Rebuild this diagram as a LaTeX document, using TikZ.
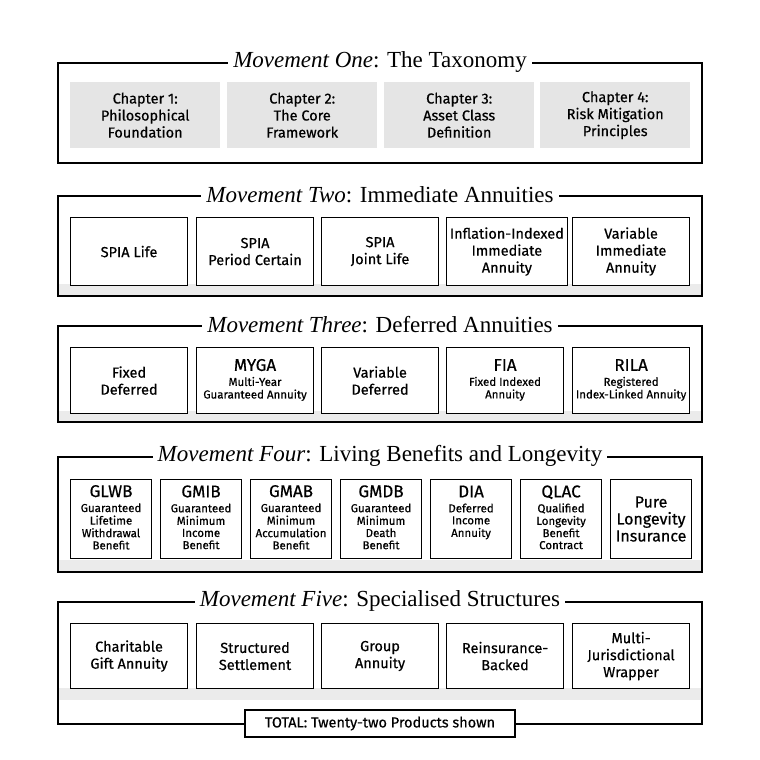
\documentclass[tikz,border=0pt]{standalone}
\usepackage{fontspec}
\setmainfont{Liberation Serif}
\newfontfamily\boxfont[FakeBold=0.5]{Fira Sans}
\newcommand\smtxt[1]{{\fontsize{11.5}{12}\selectfont\begin{tabular}[t]{@{}c@{}}#1\end{tabular}}}
\newcommand\hd[1]{{\fontsize{17}{17}\selectfont #1}}
\begin{document}
\begin{tikzpicture}[x=1pt,y=-1pt,
 frame/.style={draw,line width=1.2pt},
 ttl/.style={fill=white,inner xsep=5pt,font=\fontsize{23}{26}\selectfont},
 chap/.style={fill=black!10,minimum height=66pt,align=center,font=\boxfont\fontsize{14.5}{17}\selectfont,anchor=north west},
 prod/.style={draw,line width=1.1pt,fill=white,align=center,font=\boxfont\fontsize{14.5}{17}\selectfont,anchor=north west}]
\useasboundingbox (0,0) rectangle (760,760);
% Movement 1
\draw[frame] (58,63) rectangle (702,163);
\node[ttl] (t1) at (380,62) {\textit{Movement One}: The Taxonomy};
\foreach \x/\t [count=\i] in {70/{Chapter 1:\\Philosophical\\Foundation},227/{Chapter 2:\\The Core\\Framework},384/{Chapter 3:\\Asset Class\\Definition},540/{Chapter 4:\\Risk Mitigation\\Principles}}
 \node[chap,minimum width=150pt] (c\i) at (\x,82) {\t};
% Movement 2
\fill[black!8] (59,284) rectangle (701,295);
\draw[frame] (58,196) rectangle (702,296);
\node[ttl] (t2) at (380,195) {\textit{Movement Two}: Immediate Annuities};
\foreach \x/\t [count=\i] in {70/{SPIA Life},196/{SPIA\\Period Certain},321/{SPIA\\Joint Life},446/{Inflation-Indexed\\Immediate\\Annuity},572/{Variable\\Immediate\\Annuity}}
 \node[prod,minimum width=117pt,minimum height=68pt] (b\i) at (\x,217) {\t};
% Movement 3
\fill[black!8] (59,411) rectangle (701,421);
\draw[frame] (58,326) rectangle (702,422);
\node[ttl] (t3) at (380,325) {\textit{Movement Three}: Deferred Annuities};
\foreach \x/\t [count=\i] in {70/{Fixed\\Deferred},196/{\hd{MYGA}\\[-2pt]\smtxt{Multi-Year\\Guaranteed Annuity}},321/{Variable\\Deferred},446/{\hd{FIA}\\[-2pt]\smtxt{Fixed Indexed\\Annuity}},572/{\hd{RILA}\\[-2pt]\smtxt{Registered\\Index-Linked Annuity}}}
 \node[prod,minimum width=117pt,minimum height=66pt] (d\i) at (\x,347) {\t};
% Movement 4
\fill[black!8] (59,560) rectangle (701,571);
\draw[frame] (58,457) rectangle (702,572);
\node[ttl] (t4) at (380,456) {\textit{Movement Four}: Living Benefits and Longevity};
\foreach \x/\t [count=\i] in {70/{\hd{GLWB}\\[-2pt]\smtxt{Guaranteed\\Lifetime\\Withdrawal\\Benefit}},160/{\hd{GMIB}\\[-2pt]\smtxt{Guaranteed\\Minimum\\Income\\Benefit}},250/{\hd{GMAB}\\[-2pt]\smtxt{Guaranteed\\Minimum\\Accumulation\\Benefit}},340/{\hd{GMDB}\\[-2pt]\smtxt{Guaranteed\\Minimum\\Death\\Benefit}},430/{\hd{DIA}\\[-2pt]\smtxt{Deferred\\Income\\Annuity\\\mbox{}}},520/{\hd{QLAC}\\[-2pt]\smtxt{Qualified\\Longevity\\Benefit\\Contract}}}
 \node[prod,minimum width=81pt,minimum height=79pt,inner xsep=1pt,inner ysep=3pt] (l\i) at (\x,479) {\t};
\node[prod,minimum width=81pt,minimum height=79pt,inner xsep=1pt,font=\boxfont\fontsize{16}{17}\selectfont] (l7) at (610,479) {Pure\\Longevity\\Insurance};
% Movement 5
\fill[black!8] (59,688) rectangle (701,700);
\draw[frame] (58,602) rectangle (702,724);
\node[ttl] (t5) at (380,601) {\textit{Movement Five}: Specialised Structures};
\foreach \x/\t [count=\i] in {70/{Charitable\\Gift Annuity},196/{Structured\\Settlement},321/{Group\\Annuity},446/{Reinsurance-\\Backed},572/{Multi-\\Jurisdictional\\Wrapper}}
 \node[prod,minimum width=117pt,minimum height=65pt] (s\i) at (\x,623) {\t};
\node[draw,line width=1.1pt,fill=white,minimum width=270pt,minimum height=27pt,font=\boxfont\fontsize{14.5}{17}\selectfont] (tot) at (380,723.5) {TOTAL: Twenty-two Products shown};
\end{tikzpicture}
\end{document}
